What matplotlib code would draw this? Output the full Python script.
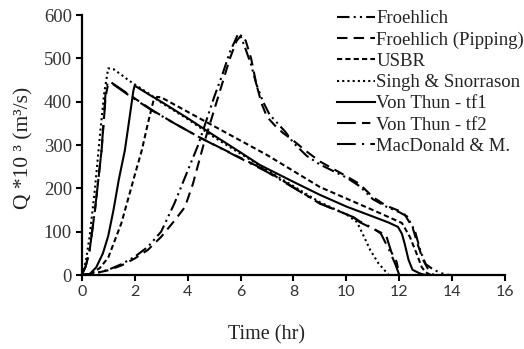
import matplotlib
matplotlib.use("Agg")
import matplotlib.pyplot as plt

# ---------------- data ----------------
t_froehlich = [0, 0.5, 1.0, 1.5, 2.0, 2.5, 3.0, 3.5, 4.0, 4.4, 4.7, 5.0, 5.3, 5.6, 5.9, 6.0,
               6.2, 6.4, 6.6, 6.85, 7.1, 7.4, 7.7, 8.0, 8.5, 9.0, 9.5, 10.0, 10.5, 11.0,
               11.5, 12.0, 12.3, 12.6, 12.8, 13.0, 13.3, 13.6, 13.9]
q_froehlich = [0, 4, 12, 25, 42, 65, 100, 165, 240, 300, 355, 410, 460, 515, 555, 552,
               520, 485, 440, 400, 370, 350, 330, 305, 275, 255, 240, 225, 205, 175,
               158, 145, 135, 100, 55, 25, 12, 4, 0]

t_pipping = [0, 0.5, 1.0, 1.5, 2.0, 2.5, 3.0, 3.5, 3.9, 4.2, 4.6, 5.0, 5.3, 5.6, 5.85, 6.05,
             6.2, 6.4, 6.6, 6.8, 7.0, 7.3, 7.6, 8.0, 8.5, 9.0, 9.5, 10.0, 10.5, 11.0, 11.5,
             12.0, 12.2, 12.5, 12.7, 12.9, 13.1, 13.3]
q_pipping = [0, 4, 11, 22, 38, 58, 88, 125, 157, 210, 300, 380, 440, 500, 540, 555,
             540, 500, 440, 395, 365, 345, 328, 310, 285, 262, 245, 228, 210, 180, 160,
             148, 140, 110, 70, 35, 12, 0]

t_usbr = [0, 0.3, 0.68, 1.0, 1.5, 2.0, 2.27, 2.5, 2.7, 2.85, 3.0, 4.5, 7.0, 9.0, 11.0,
          12.1, 12.4, 12.65, 12.85, 13.0, 13.2]
q_usbr = [0, 1, 16, 40, 120, 230, 288, 350, 400, 411, 410, 360, 277, 203, 150,
          120, 88, 50, 18, 6, 0]

t_singh = [0, 0.15, 0.3, 0.5, 0.7, 0.85, 1.0, 1.2, 1.5, 1.8, 2.0, 2.5, 3.0, 4.0, 5.0,
           6.0, 7.0, 8.0, 9.0, 10.0, 10.4, 10.6, 10.9, 11.2, 11.5, 11.6]
q_singh = [0, 30, 90, 200, 330, 420, 477, 475, 462, 448, 440, 420, 398, 360, 318,
           280, 242, 205, 168, 140, 122, 97, 58, 28, 7, 0]

t_tf1 = [0, 0.3, 0.55, 0.8, 1.0, 1.2, 1.4, 1.63, 1.8, 1.95, 2.0, 2.5, 3.0, 4.0, 5.0,
         6.0, 6.73, 8.0, 9.0, 10.0, 11.0, 11.6, 11.95, 12.1, 12.2, 12.35, 12.5, 12.8, 13.0]
q_tf1 = [0, 2, 18, 50, 90, 150, 220, 288, 360, 425, 437, 418, 400, 362, 322,
         283, 254, 215, 185, 158, 135, 121, 111, 95, 73, 35, 12, 3, 0]

t_tf2 = [0, 0.15, 0.3, 0.5, 0.75, 0.9, 1.0, 1.1, 1.7, 2.65, 3.5, 4.5, 7.0, 9.0, 10.25,
         10.5, 11.1, 11.5, 11.7, 11.9, 12.0]
q_tf2 = [0, 20, 58, 150, 288, 410, 443, 445, 420, 381, 350, 316, 240, 165, 134,
         122, 104, 92, 53, 30, 0]

t_macd = [0, 0.15, 0.3, 0.5, 0.75, 0.9, 0.97, 1.1, 1.7, 2.65, 3.5, 4.5, 7.0, 9.0, 10.25,
          10.5, 11.0, 11.3, 11.6, 11.85, 12.0]
q_macd = [0, 20, 58, 150, 288, 420, 442, 444, 418, 380, 350, 316, 238, 165, 134,
          124, 108, 96, 60, 25, 0]

labels = ["Froehlich", "Froehlich (Pipping)", "USBR", "Singh & Snorrason",
          "Von Thun - tf1", "Von Thun - tf2", "MacDonald & M."]
x_ticks = [0, 2, 4, 6, 8, 10, 12, 14, 16]
y_ticks = [0, 100, 200, 300, 400, 500, 600]

# ---------------- styling ----------------
serif = "Liberation Serif"
styles = [
    (0, (6, 2, 1, 2, 1, 2)),   # Froehlich
    (0, (5, 3)),               # Pipping
    (0, (2.5, 1.5)),           # USBR
    (0, (1, 1.5)),             # Singh
    "-",                       # tf1
    (0, (9, 3, 4, 3)),         # tf2
    (0, (9, 3, 1, 3)),         # MacDonald
]
series = [(t_froehlich, q_froehlich), (t_pipping, q_pipping), (t_usbr, q_usbr),
          (t_singh, q_singh), (t_tf1, q_tf1), (t_tf2, q_tf2), (t_macd, q_macd)]

fig = plt.figure(figsize=(5.24, 3.49), dpi=100)
ax = fig.add_axes([0.156, 0.212, 0.808, 0.745])

for (t, q), ls, lab in zip(series, styles, labels):
    ax.plot(t, q, color="black", linestyle=ls, linewidth=1.5, label=lab)

ax.set_xlim(0, 16)
ax.set_ylim(0, 600)
ax.set_xticks(x_ticks)
ax.set_yticks(y_ticks)
ax.set_xticklabels([str(v) for v in x_ticks], fontfamily="Lato", fontsize=11.5)
ax.set_yticklabels([str(v) for v in y_ticks], fontfamily=serif, fontsize=13.5, color="#333333")
for lab in ax.get_xticklabels():
    lab.set_color("#333333")
ax.tick_params(direction="out", length=4, width=1.5, pad=3)
for s in ["top", "right"]:
    ax.spines[s].set_visible(False)
for s in ["left", "bottom"]:
    ax.spines[s].set_linewidth(1.6)

fig.text(267 / 524, 1 - 335 / 349, "Time (hr)", fontfamily=serif, fontsize=14.5,
         ha="center", va="center", color="#222222")
fig.text(24 / 524, 1 - 148 / 349, "Q *10 \u00b3 (m\u00b3/s)", fontfamily=serif, fontsize=15.5,
         ha="center", va="center", rotation=90, color="#222222")

leg = ax.legend(loc="upper left", bbox_to_anchor=(337 / 524, 1 - 10 / 349),
                bbox_transform=fig.transFigure, frameon=False,
                prop={"family": serif, "size": 13.5}, handlelength=2.0,
                handletextpad=0.1, labelspacing=0.22, borderpad=0, borderaxespad=0)
for txt in leg.get_texts():
    txt.set_color("#222222")

fig.savefig("out.png", dpi=100)
